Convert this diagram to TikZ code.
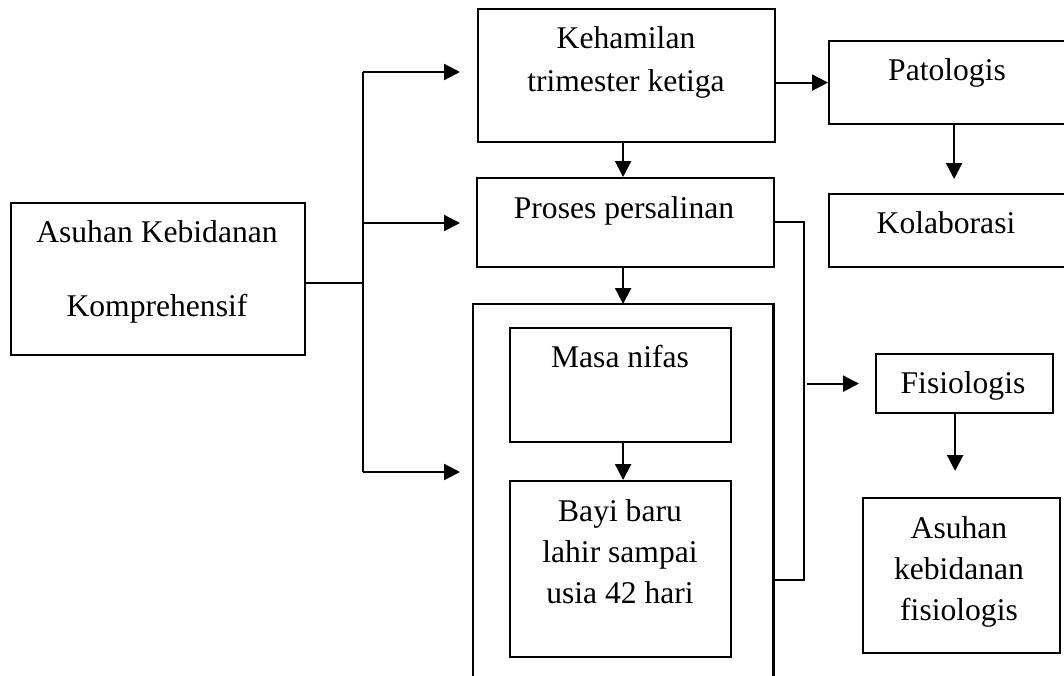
\documentclass[tikz,border=0pt]{standalone}
\usepackage{fontspec}
\setmainfont{Liberation Serif}
\usetikzlibrary{arrows.meta}
\tikzset{
  box/.style={draw, line width=2.2pt, rectangle, inner sep=0pt, anchor=north west},
  arr/.style={line width=2.2pt, -{Triangle[length=16pt,width=16pt]}},
  ln/.style={line width=2.2pt},
  txt/.style={anchor=base, inner sep=0pt, font=\fontsize{31.6}{38}\selectfont},
}
\begin{document}
\begin{tikzpicture}[x=1pt,y=-1pt]
\useasboundingbox (0,0) rectangle (1064,675);
\clip (0,0) rectangle (1064,675);
\fill[white] (0,0) rectangle (1064,675);
% boxes
\node[box, minimum width=294pt, minimum height=152pt] (ak) at (10,202) {};
\node[box, minimum width=297pt, minimum height=133pt] (keh) at (477,8) {};
\node[box, minimum width=297pt, minimum height=89pt] (pro) at (476,177) {};
\node[anchor=north west, inner sep=0pt, minimum width=300pt, minimum height=420pt] (big) at (473,304) {};
\draw[ln] (big.south west) -- (big.north west) -- (big.north east) -- (big.south east);
\node[box, minimum width=221pt, minimum height=114pt] (nif) at (509,327) {};
\node[box, minimum width=221pt, minimum height=176pt] (bayi) at (509,480) {};
\node[box, minimum width=236pt, minimum height=83pt] (pat) at (828,40) {};
\node[box, minimum width=236pt, minimum height=73pt] (kol) at (828,193) {};
\node[box, minimum width=177pt, minimum height=59pt] (fis) at (875,353) {};
\node[box, minimum width=197pt, minimum height=155pt] (akf) at (862,497) {};
% texts
\node[txt] (t1) at (157,242) {Asuhan Kebidanan};
\node[txt] (t2) at (157,316) {Komprehensif};
\node[txt] (t3) at (626,48) {Kehamilan};
\node[txt] (t4) at (626,91) {trimester ketiga};
\node[txt] (t5) at (624,218) {Proses persalinan};
\node[txt] (t6) at (620,367) {Masa nifas};
\node[txt] (t7) at (620,521) {Bayi baru};
\node[txt] (t8) at (620,562) {lahir sampai};
\node[txt] (t9) at (620,603) {usia 42 hari};
\node[txt] (t10) at (947,80) {Patologis};
\node[txt] (t11) at (946,233) {Kolaborasi};
\node[txt] (t12) at (963,393) {Fisiologis};
\node[txt] (t13) at (959,538) {Asuhan};
\node[txt] (t14) at (959,579) {kebidanan};
\node[txt] (t15) at (959,620) {fisiologis};
% left branching
\coordinate (jtop) at (363,72);
\coordinate (jmid) at (363,223);
\coordinate (jbot) at (363,472);
\coordinate (jin) at (363,283);
\draw[ln] (ak.east |- jin) -- (jin);
\draw[ln] (jtop) -- (jbot);
\draw[arr, shorten >=17pt] (jtop) -- (keh.west |- jtop);
\draw[arr, shorten >=16pt] (jmid) -- (pro.west |- jmid);
\draw[arr, shorten >=13pt] (jbot) -- (big.west |- jbot);
% vertical arrows in middle column
\draw[arr] ([xshift=-3.5pt]keh.south) -- ([xshift=-3.5pt]keh.south |- pro.north);
\draw[arr] ([xshift=-2.5pt]pro.south) -- ([xshift=-2.5pt]pro.south |- big.north);
\draw[arr] ([xshift=2.5pt]nif.south) -- ([xshift=2.5pt]nif.south |- bayi.north);
% right side
\draw[arr] (keh.east |- pat.west) -- (pat.west);
\draw[arr, shorten >=14pt] ([xshift=7pt]pat.south) -- ([xshift=7pt]pat.south |- kol.north);
\coordinate (r1) at (804,222);
\coordinate (r2) at (804,580);
\draw[ln] (pro.east |- r1) -- (r1) -- (r2) -- (big.east |- r2);
\draw[arr, shorten <=3pt, shorten >=16pt] (r1 |- fis.west) -- (fis.west);
\draw[arr, shorten >=26pt] ([xshift=-9.5pt]fis.south) -- ([xshift=-9.5pt]fis.south |- akf.north);
\end{tikzpicture}
\end{document}
